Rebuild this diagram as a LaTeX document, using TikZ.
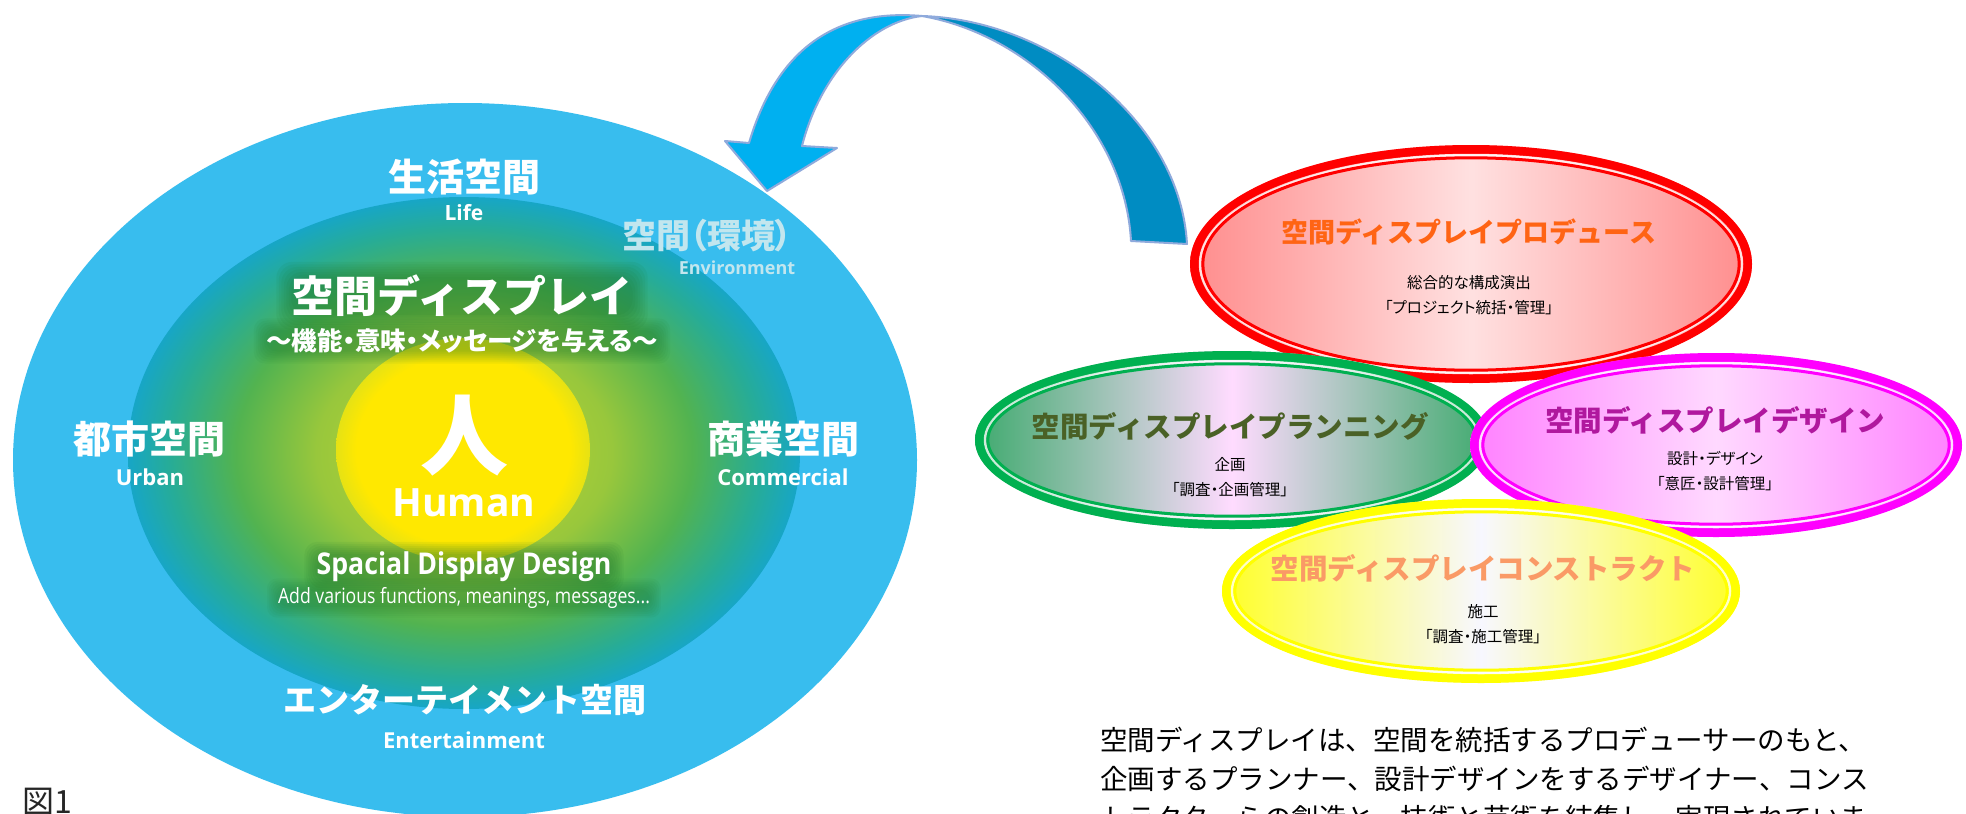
\documentclass[tikz,border=0pt]{standalone}
\usepackage{fontspec}
\usetikzlibrary{calc}
\newfontfamily\jp{Noto Sans CJK JP}
\newfontfamily\jpp[RawFeature=+palt]{Noto Sans CJK JP}
\newfontfamily\os{Open Sans}
\newfontfamily\osc[FakeStretch=0.89]{Open Sans}
\newfontfamily\osn[FakeStretch=0.84]{Open Sans}
\definecolor{outerblue}{HTML}{38BDEE}
\definecolor{arrowlight}{HTML}{00B0F0}
\definecolor{arrowdark}{HTML}{008CC2}
\definecolor{arrowedge}{HTML}{8FAADC}
\definecolor{glowgreen}{HTML}{136F2A}
\definecolor{shadowblue}{HTML}{1C6E98}
\definecolor{envtext}{HTML}{C2E6EE}
\definecolor{gA}{HTML}{C6D92E}
\definecolor{gB}{HTML}{98C73C}
\definecolor{gC}{HTML}{52B350}
\definecolor{gD}{HTML}{26AC98}
\definecolor{gE}{HTML}{17A6C6}
\definecolor{yelA}{HTML}{FFE800}
\definecolor{yelB}{HTML}{E6E214}
\definecolor{prodc}{HTML}{FF6414}
\definecolor{planc}{HTML}{4A6126}
\definecolor{desc}{HTML}{B0189E}
\definecolor{consc}{HTML}{FA9A66}
\definecolor{redring}{HTML}{FF0000}
\definecolor{greenring}{HTML}{00B050}
\definecolor{greenside}{HTML}{3FAA6E}
\definecolor{magring}{HTML}{FF00FF}
\definecolor{yelring}{HTML}{FFFF00}
\pgfdeclareradialshading{innerglow}{\pgfpoint{0bp}{0bp}}{color(0bp)=(gA); color(11bp)=(gB); color(17bp)=(gC); color(22bp)=(gD); color(25bp)=(gE); color(50bp)=(gE)}
\pgfdeclareradialshading{yeldisc}{\pgfpoint{0bp}{0bp}}{color(0bp)=(yelA); color(21bp)=(yelA); color(25bp)=(yelB); color(50bp)=(yelB)}
\pgfdeclarelayer{base}
\pgfdeclarelayer{halo}
\pgfsetlayers{base,halo,main}
\newcommand\halo[5]{% #1 node, #2 colour, #3 opacity, #4 step, #5 corner
  \begin{pgfonlayer}{halo}
  \foreach \k in {0,...,6}{%
    \fill[#2, opacity=#3, rounded corners=#5] ($(#1.south west)+(-\k*#4,\k*#4-2)$) rectangle ($(#1.north east)+(\k*#4,-\k*#4+2)$);}
  \end{pgfonlayer}}
\newcommand\ringell[7]{%
  \shade[left color=#6, right color=#6, middle color=#7] (#2) ellipse [x radius=#3pt, y radius=#4pt];
  \draw[#5, line width=9pt] (#2) ellipse [x radius=#3pt-4.5pt, y radius=#4pt-4.5pt];
  \draw[white, opacity=0.75, line width=2.5pt] (#2) ellipse [x radius=#3pt-10pt, y radius=#4pt-10pt];
  \draw[#5, line width=3pt] (#2) ellipse [x radius=#3pt-12.8pt, y radius=#4pt-12.8pt];
  \coordinate (#1) at (#2);}
\begin{document}
\begin{tikzpicture}[x=1pt,y=-1pt,
  wlbl/.style={text=white, inner sep=0pt},
  cjkbig/.style={wlbl, font=\jp\bfseries\fontsize{38}{40}\selectfont},
  enlbl/.style={wlbl, font=\os\bfseries\fontsize{22}{24}\selectfont},
  jtitle/.style={font=\jp\bfseries\fontsize{28.5}{30}\selectfont, inner sep=0pt},
  jsub/.style={font=\jpp\fontsize{15.5}{25}\selectfont, align=center, inner sep=0pt, text=black},
  bodytext/.style={font=\jp\fontsize{27.5}{39}\selectfont, anchor=west, inner sep=0pt},
  arrowpart/.style={draw=arrowedge, line width=2pt, line join=round}]
\useasboundingbox (0,0) rectangle (1966,814);
\begin{pgfonlayer}{base}
\fill[white] (0,0) rectangle (1966,814);
% ---------- left: nested spaces ----------
\fill[outerblue] (465,460) ellipse [x radius=452pt, y radius=357pt];
\shade[shading=innerglow] (464,453) ellipse [x radius=336pt, y radius=256pt];
\shade[shading=yeldisc] (463,450) ellipse [x radius=127pt, y radius=112pt];
\end{pgfonlayer}

\node[cjkbig] (life) at (464,177) {生活空間};
\node[enlbl, font=\os\bfseries\fontsize{21}{24}\selectfont] (lifeen) at (464,213) {Life};
\node[font=\jpp\bfseries\fontsize{34}{36}\selectfont, text=envtext, inner sep=0pt] (env) at (707,236) {空間（環境）};
\node[font=\os\bfseries\fontsize{18}{20}\selectfont, text=envtext, inner sep=0pt] (enven) at (737,268) {Environment};
\node[wlbl, font=\jp\bfseries\fontsize{43}{46}\selectfont] (sd) at (462,296) {空間ディスプレイ};
\node[wlbl, font=\jpp\bfseries\fontsize{25.5}{27}\selectfont] (sdsub) at (462,341) {～機能・意味・メッセージを与える～};
\node[wlbl, font=\jp\bfseries\fontsize{88}{90}\selectfont] (hito) at (464,436) {人};
\node[wlbl, font=\os\bfseries\fontsize{39}{42}\selectfont] (human) at (464,503) {Human};
\node[wlbl, font=\osc\bfseries\fontsize{30}{32}\selectfont] (sdd) at (464,567) {Spacial Display Design};
\node[wlbl, font=\osn\fontsize{21}{24}\selectfont] (sdden) at (464,598) {Add various functions, meanings, messages...};
\node[cjkbig] (urban) at (149,439) {都市空間};
\node[enlbl] (urbanen) at (150,477) {Urban};
\node[cjkbig] (comm) at (783,439) {商業空間};
\node[enlbl] (commen) at (783,477) {Commercial};
\node[wlbl, font=\jp\bfseries\fontsize{33}{36}\selectfont] (ent) at (465,700) {エンターテイメント空間};
\node[enlbl] (enten) at (464,740) {Entertainment};
\node[font=\jp\fontsize{32}{34}\selectfont, text=black!85, inner sep=0pt] (fig) at (47,802) {図1};

\halo{sd}{glowgreen}{0.07}{2.5}{16pt}
\halo{sdsub}{glowgreen}{0.06}{2}{11pt}
\halo{sdd}{glowgreen}{0.07}{2}{13pt}
\halo{sdden}{glowgreen}{0.05}{1.8}{10pt}

% ---------- curved arrow ----------
\coordinate (cross) at (922,16);
\coordinate (tip) at (767,191);
\filldraw[arrowpart, fill=arrowdark] (cross) .. controls (1050,20) and (1180,120) .. (1187,244)
   -- (1131,241) .. controls (1125,130) and (1030,35) .. (cross) -- cycle;
\filldraw[arrowpart, fill=arrowlight] (749,143) .. controls (775,55) and (830,8) .. (cross)
   .. controls (870,22) and (820,75) .. (802,146) -- (837,148) -- (tip) -- (725,141) -- cycle;

% ---------- right: four roles ----------
\ringell{prod}{1471,264}{281}{119}{redring}{red!45}{red!12}
\ringell{plan}{1232,440}{257}{89}{greenring}{greenside}{magenta!14}
\ringell{des}{1716,445}{246}{92}{magring}{magenta!50}{magenta!15}
\ringell{cons}{1481,591}{259}{92}{yelring}{yellow!85}{blue!3}

\node[jtitle, text=prodc, font=\jp\bfseries\fontsize{27}{29}\selectfont] (prodt) at (1469,232) {空間ディスプレイプロデュース};
\node[jsub] (prods) at (1469,295) {総合的な構成演出\\「プロジェクト統括・管理」};
\node[jtitle, text=planc] (plant) at (1230,426) {空間ディスプレイプランニング};
\node[jsub] (plans) at (1230,477) {企画\\「調査・企画管理」};
\node[jtitle, text=desc] (dest) at (1715,420) {空間ディスプレイデザイン};
\node[jsub] (dess) at (1715,471) {設計・デザイン\\「意匠・設計管理」};
\node[jtitle, text=consc] (const) at (1483,568) {空間ディスプレイコンストラクト};
\node[jsub] (conss) at (1483,624) {施工\\「調査・施工管理」};

% ---------- explanatory text ----------
\node[bodytext] (t1) at (1100,740) {空間ディスプレイは、空間を統括するプロデューサーのもと、};
\node[bodytext] (t2) at (1100,779) {企画するプランナー、設計デザインをするデザイナー、コンス};
\node[bodytext] (t3) at (1100,818) {トラクターらの創造と、技術と芸術を結集し、実現されていま};
\end{tikzpicture}
\end{document}
